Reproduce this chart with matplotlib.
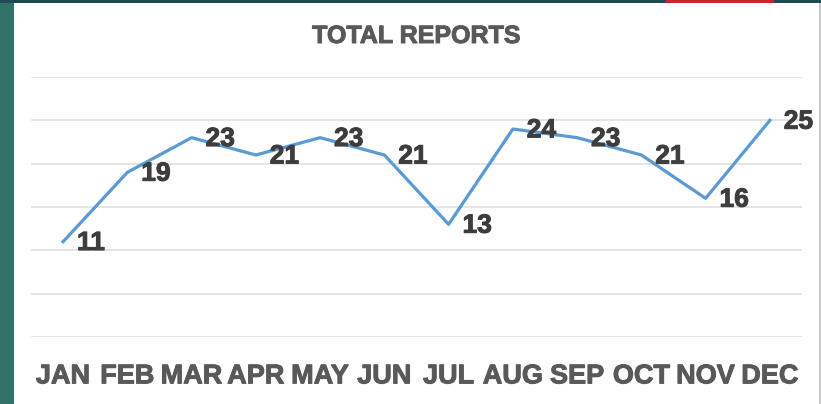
import matplotlib
matplotlib.use("Agg")
import matplotlib.pyplot as plt
import matplotlib.patheffects as pe
from matplotlib.patches import Rectangle

months = ["JAN", "FEB", "MAR", "APR", "MAY", "JUN", "JUL", "AUG", "SEP", "OCT", "NOV", "DEC"]
reports = [11, 19, 23, 21, 23, 21, 13, 24, 23, 21, 16, 25]
title = "TOTAL REPORTS"

plt.rcParams["font.family"] = ["Liberation Sans", "DejaVu Sans"]
plt.rcParams["font.weight"] = "bold"

W, H = 821, 404
fig = plt.figure(figsize=(W / 100, H / 100), dpi=100, facecolor="white")

def px(x0, y0, w, h):
    return (x0 / W, 1 - (y0 + h) / H, w / W, h / H)

def heavy(c, w=0.7):
    return [pe.withStroke(linewidth=w, foreground=c)]

# decorative frame pieces
for (x0, y0, w, h, c) in [
    (0, 0, 14, H, "#31716a"),
    (0, 0, W, 3, "#1e4b53"),
    (666, 0, 108, 3, "#c4272a"),
    (819, 3, 2, H, "#c8c8c8"),
]:
    l, b, ww, hh = px(x0, y0, w, h)
    fig.patches.append(Rectangle((l, b), ww, hh, transform=fig.transFigure,
                                 facecolor=c, edgecolor="none", zorder=0))

ax = fig.add_axes([31 / W, (H - 337) / H, 771 / W, 260 / H])
ax.set_facecolor("none")
x = list(range(len(months)))
ax.plot(x, reports, color="#5b9bd5", lw=2.3, solid_joinstyle="round", zorder=3)
for xi, v in zip(x, reports):
    ax.annotate(str(v), (xi, v), xytext=(10, -1), textcoords="offset points",
                ha="left", va="center", fontsize=19, fontweight="bold",
                color="#3d3d3d", zorder=4, path_effects=heavy("#3d3d3d"))

ax.set_xlim(-0.5, len(months) - 0.5)
ax.set_ylim(0, 30)
ax.set_yticks(range(0, 31, 5))
ax.set_yticklabels([])
ax.yaxis.grid(True, color="#e0e0e0", lw=1.2)
ax.set_axisbelow(True)
ax.tick_params(axis="y", length=0)
ax.set_xticks(x)
ax.set_xticklabels(months, fontsize=19.5, fontweight="bold", color="#595959")
for t in ax.get_xticklabels():
    t.set_path_effects(heavy("#595959"))
ax.tick_params(axis="x", length=0, pad=19)
for s in ax.spines.values():
    s.set_visible(False)

fig.text(416 / W, 1 - 36 / H, title, ha="center", va="center",
         fontsize=18, fontweight="bold", color="#595959",
         path_effects=heavy("#595959"))

fig.savefig("out.png", dpi=100, facecolor="white")
